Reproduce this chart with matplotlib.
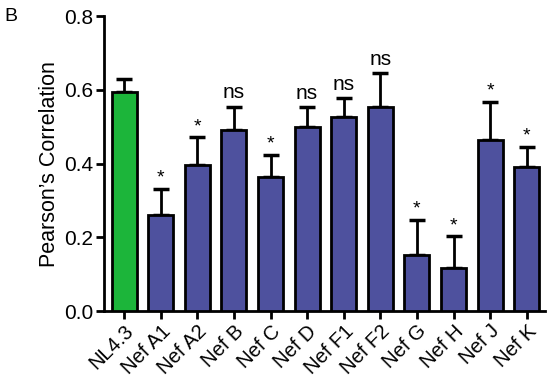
import matplotlib
matplotlib.use("Agg")
import matplotlib.pyplot as plt
import numpy as np

plt.rcParams['font.family'] = ['Liberation Sans', 'DejaVu Sans']

# values
labels = ['NL4.3', 'Nef A1', 'Nef A2', 'Nef B', 'Nef C', 'Nef D',
          'Nef F1', 'Nef F2', 'Nef G', 'Nef H', 'Nef J', 'Nef K']
means = [0.594, 0.261, 0.396, 0.491, 0.363, 0.499,
         0.527, 0.553, 0.152, 0.116, 0.464, 0.391]
errs = [0.035, 0.070, 0.075, 0.063, 0.060, 0.054,
        0.051, 0.093, 0.095, 0.087, 0.103, 0.055]
marks = ['', '*', '*', 'ns', '*', 'ns', 'ns', 'ns', '*', '*', '*', '*']

green = '#1cb53a'
blue = '#4e519e'
colors = [green] + [blue] * (len(labels) - 1)

fig = plt.figure(figsize=(5.5, 3.85), dpi=100)
ax = fig.add_axes([0.189, 0.192, 0.802, 0.766])

x = np.arange(len(labels))
ax.bar(x, means, width=0.68, color=colors, edgecolor='black', linewidth=2, zorder=3)
ax.errorbar(x, means, yerr=[np.zeros(len(errs)), errs], fmt='none', ecolor='black',
            elinewidth=2, capsize=5.5, capthick=2.5, zorder=2)

for xi, m, e, t in zip(x, means, errs, marks):
    if not t:
        continue
    if t == '*':
        ax.text(xi, m + e + 0.006, t, ha='center', va='bottom', fontsize=14)
    else:
        ax.text(xi, m + e + 0.012, t, ha='center', va='bottom', fontsize=15)

ax.set_xlim(-0.55, 11.5)
ax.set_ylim(0, 0.8)
ax.set_yticks([0.0, 0.2, 0.4, 0.6, 0.8])
ax.set_yticklabels(['0.0', '0.2', '0.4', '0.6', '0.8'], fontsize=15)
ax.set_xticks(x)
ax.set_xticklabels(labels, rotation=45, ha='right', rotation_mode='anchor', fontsize=14.5)
ax.set_ylabel("Pearson\u2019s Correlation", fontsize=15.5, labelpad=3)

for s in ['top', 'right']:
    ax.spines[s].set_visible(False)
for s in ['left', 'bottom']:
    ax.spines[s].set_linewidth(2)
ax.tick_params(axis='both', width=2, length=5.5, pad=2)

fig.text(0.008, 0.957, 'B', fontsize=14, va='center')

fig.savefig('out.png', dpi=100)
